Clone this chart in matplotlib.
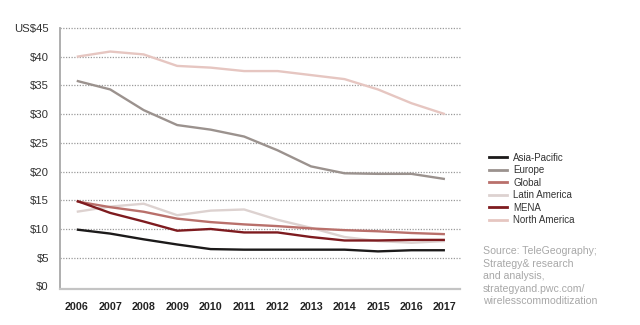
import matplotlib
matplotlib.use("Agg")
import matplotlib.pyplot as plt

years = list(range(2006, 2018))
asia_pacific = [9.9, 9.2, 8.2, 7.3, 6.5, 6.4, 6.4, 6.4, 6.4, 6.1, 6.3, 6.3]
europe = [35.8, 34.3, 30.7, 28.1, 27.3, 26.1, 23.7, 20.9, 19.7, 19.6, 19.6, 18.7]
global_ = [14.8, 13.8, 13.0, 11.8, 11.2, 10.8, 10.5, 10.1, 9.8, 9.6, 9.3, 9.1]
latin_america = [13.0, 13.9, 14.4, 12.4, 13.2, 13.4, 11.6, 10.2, 8.6, 7.9, 7.6, 7.9]
mena = [14.9, 12.8, 11.3, 9.7, 10.0, 9.4, 9.4, 8.6, 8.0, 8.0, 8.1, 8.1]
north_america = [40.0, 40.9, 40.4, 38.4, 38.1, 37.5, 37.5, 36.8, 36.1, 34.3, 31.9, 30.0]

series = [
    ("Asia-Pacific", asia_pacific, "#1c1a1a"),
    ("Europe", europe, "#9b928e"),
    ("Global", global_, "#b9706b"),
    ("Latin America", latin_america, "#ddd2d0"),
    ("MENA", mena, "#7e1b1f"),
    ("North America", north_america, "#e6c6c1"),
]
yticks = [0, 5, 10, 15, 20, 25, 30, 35, 40, 45]
ytick_labels = ["$0", "$5", "$10", "$15", "$20", "$25", "$30", "$35", "$40", "US$45"]
source_text = ("Source: TeleGeography;\nStrategy& research\nand analysis,\n"
               "strategyand.pwc.com/\nwirelesscommoditization")

plt.rcParams['font.family'] = ['Liberation Sans', 'DejaVu Sans']
fig = plt.figure(figsize=(6.4, 3.25), dpi=100)
ax = fig.add_axes([60/640, 1-289/325, 400/640, 261/325])

for y in yticks[1:]:
    ax.axhline(y, color="#9a9a9a", lw=0.9, ls=(0, (1, 1.2)), zorder=0, clip_on=False)

draw_order = [3, 5, 1, 2, 4, 0]
for i in draw_order:
    name, vals, col = series[i]
    ax.plot(years, vals, color=col, lw=1.7, solid_capstyle="butt", zorder=2 + (1 if i in (4, 0) else 0))

ax.set_xlim(2005.5, 2017.45)
ax.set_ylim(-0.45, 45.0)
ax.set_xticks(years)
ax.set_xticklabels([str(y) for y in years], fontweight="bold", fontsize=7.7, color="#222222")
ax.set_yticks(yticks)
ax.set_yticklabels(ytick_labels, fontsize=8.2, color="#333333")
ax.tick_params(axis="both", length=0)
ax.tick_params(axis="x", pad=9)
ax.tick_params(axis="y", pad=8)
for s in ["top", "right"]:
    ax.spines[s].set_visible(False)
ax.spines["left"].set_color("#a8a8a8")
ax.spines["left"].set_linewidth(1.3)
ax.spines["bottom"].set_color("#c4c4c4")
ax.spines["bottom"].set_linewidth(1.6)

handles = [plt.Line2D([], [], color=c, lw=2) for _, _, c in series]
labels = [n for n, _, _ in series]
leg = fig.legend(handles, labels, loc="upper left", bbox_to_anchor=(485/640, 1-149/325),
                 frameon=False, fontsize=7, handlelength=1.9, handletextpad=0.6,
                 labelspacing=0.25, borderaxespad=0)
for t in leg.get_texts():
    t.set_color("#333333")

fig.text(483/640, 1-246/325, source_text, fontsize=7.6, color="#a8a8a8",
         va="top", ha="left", linespacing=1.32)

fig.savefig("out.png", dpi=100)
